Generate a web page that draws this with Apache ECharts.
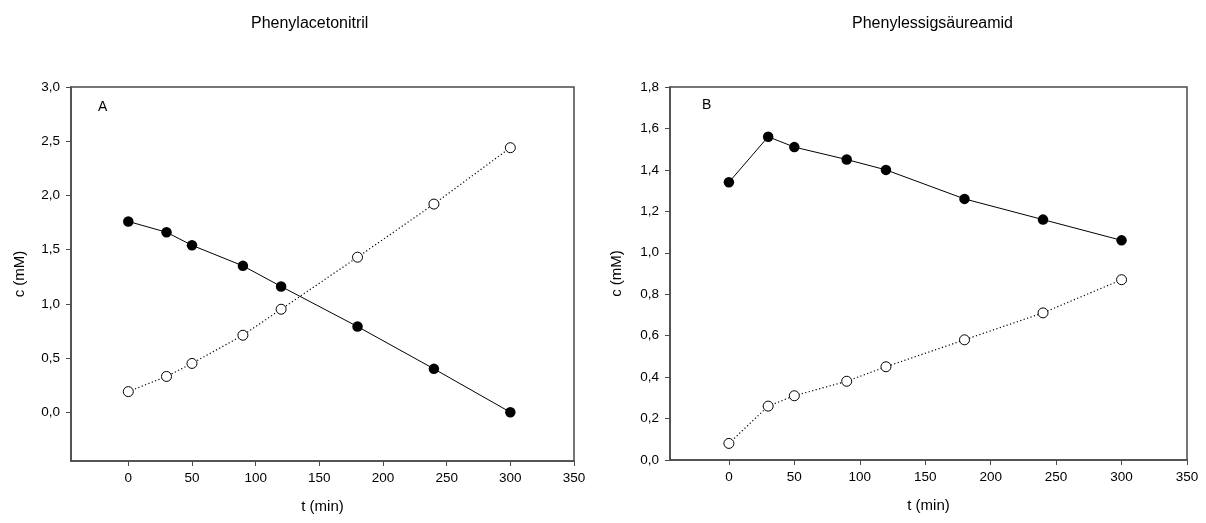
<!DOCTYPE html>
<html>
<head>
<meta charset="utf-8">
<script src="https://cdn.jsdelivr.net/npm/echarts@6/dist/echarts.min.js"></script>
<style>
  html, body { margin: 0; padding: 0; background: #fff; }
  #chart { width: 1206px; height: 523px; }
</style>
</head>
<body>
<div id="chart"></div>
<script>
// Sampling times (min), shared by both panels
const times = [0, 30, 50, 90, 120, 180, 240, 300];

// Panel A: Phenylacetonitril
const nitrilFilled = [1.76, 1.66, 1.54, 1.35, 1.16, 0.79, 0.40, 0.00];
const nitrilOpen   = [0.19, 0.33, 0.45, 0.71, 0.95, 1.43, 1.92, 2.44];

// Panel B: Phenylessigsäureamid
const amidFilled = [1.34, 1.56, 1.51, 1.45, 1.40, 1.26, 1.16, 1.06];
const amidOpen   = [0.08, 0.26, 0.31, 0.38, 0.45, 0.58, 0.71, 0.87];

// Tick values
const xTicks  = [0, 50, 100, 150, 200, 250, 300, 350];
const yTicksA = [0, 0.5, 1.0, 1.5, 2.0, 2.5, 3.0];
const yTicksB = [0, 0.2, 0.4, 0.6, 0.8, 1.0, 1.2, 1.4, 1.6, 1.8];

const titles = ['Phenylacetonitril', 'Phenylessigsäureamid'];
const panelLetters = ['A', 'B'];

const FONT = '"Liberation Sans", Arial, sans-serif';
const AXIS_COLOR = '#4a4a4a';

const pairs = (ys) => times.map((t, i) => [t, ys[i]]);
const comma = (v) => v.toFixed(1).replace('.', ',');

const grids = [
  { left: 71, top: 87, width: 503, height: 374 },
  { left: 670, top: 87, width: 517, height: 373 }
];

function xAxis(gi) {
  return {
    type: 'value', gridIndex: gi, min: -45, max: 350,
    name: 't (min)', nameLocation: 'middle', nameGap: 38,
    nameTextStyle: { fontFamily: FONT, fontSize: 15, color: '#000' },
    axisLine: { show: true, onZero: false, lineStyle: { color: AXIS_COLOR, width: 1.5 } },
    axisTick: { show: true, length: 5, inside: false, customValues: xTicks,
                lineStyle: { color: AXIS_COLOR, width: 1 } },
    axisLabel: { customValues: xTicks, margin: 10, fontFamily: FONT, fontSize: 13.5,
                 color: '#000', formatter: (v) => String(v) },
    splitLine: { show: false }
  };
}

function yAxis(gi, min, max, ticks, gap) {
  return {
    type: 'value', gridIndex: gi, min: min, max: max,
    name: 'c (mM)', nameLocation: 'middle', nameGap: gap,
    nameTextStyle: { fontFamily: FONT, fontSize: 15, color: '#000' },
    axisLine: { show: true, onZero: false, lineStyle: { color: AXIS_COLOR, width: 1.5 } },
    axisTick: { show: true, length: 5, inside: false, customValues: ticks,
                lineStyle: { color: AXIS_COLOR, width: 1 } },
    axisLabel: { customValues: ticks, margin: 11, fontFamily: FONT, fontSize: 13.5,
                 color: '#000', formatter: (v) => comma(v) },
    splitLine: { show: false }
  };
}

function filledSeries(gi, ys) {
  return {
    type: 'line', xAxisIndex: gi, yAxisIndex: gi, data: pairs(ys),
    symbol: 'circle', symbolSize: 10.5,
    itemStyle: { color: '#000', borderColor: '#000', borderWidth: 0 },
    lineStyle: { color: '#000', width: 1, type: 'solid' },
    silent: true, animation: false, z: 3
  };
}

function openSeries(gi, ys) {
  return {
    type: 'line', xAxisIndex: gi, yAxisIndex: gi, data: pairs(ys),
    symbol: 'circle', symbolSize: 10,
    itemStyle: { color: '#fff', borderColor: '#000', borderWidth: 1 },
    lineStyle: { color: '#000', width: 1.2, type: [1.2, 2.4] },
    silent: true, animation: false, z: 3
  };
}

const chart = echarts.init(document.getElementById('chart'), null, { renderer: 'canvas' });

chart.setOption({
  backgroundColor: '#fff',
  animation: false,
  grid: grids.map(g => Object.assign({ show: true, borderColor: AXIS_COLOR, borderWidth: 1.5,
                                        backgroundColor: 'transparent' }, g)),
  xAxis: [xAxis(0), xAxis(1)],
  yAxis: [yAxis(0, -0.45, 3.0, yTicksA, 44), yAxis(1, 0, 1.8, yTicksB, 46)],
  series: [
    filledSeries(0, nitrilFilled), openSeries(0, nitrilOpen),
    filledSeries(1, amidFilled), openSeries(1, amidOpen)
  ],
  graphic: [
    { type: 'text', x: 251, y: 24,
      style: { text: titles[0], font: '16px ' + FONT, fill: '#000', textAlign: 'left', textVerticalAlign: 'middle' } },
    { type: 'text', x: grids[1].left + grids[1].width / 2 + 4, y: 24,
      style: { text: titles[1], font: '16px ' + FONT, fill: '#000', textAlign: 'center', textVerticalAlign: 'middle' } },
    { type: 'text', x: 98, y: 107,
      style: { text: panelLetters[0], font: '14px ' + FONT, fill: '#000', textAlign: 'left', textVerticalAlign: 'middle' } },
    { type: 'text', x: 702, y: 105,
      style: { text: panelLetters[1], font: '14px ' + FONT, fill: '#000', textAlign: 'left', textVerticalAlign: 'middle' } }
  ]
});
</script>
</body>
</html>
